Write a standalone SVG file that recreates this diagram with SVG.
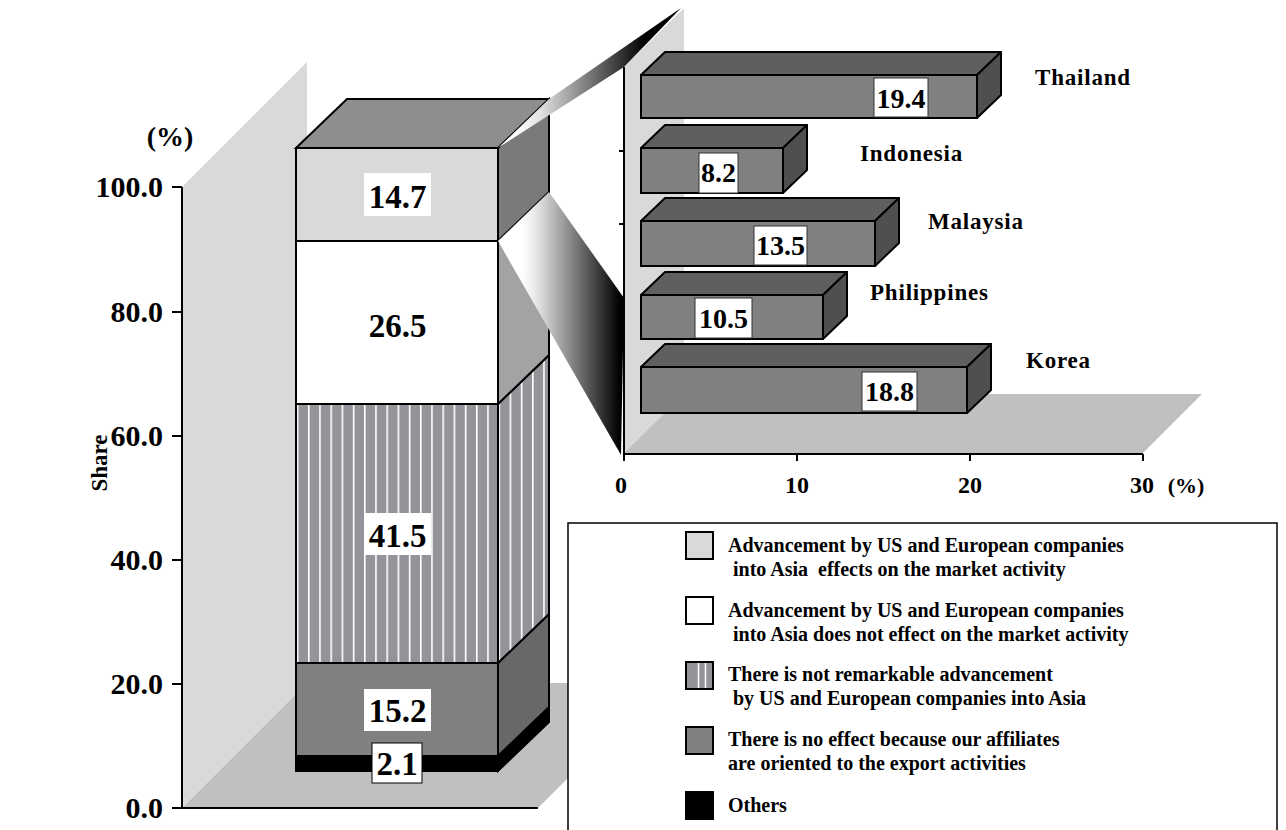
<svg xmlns="http://www.w3.org/2000/svg" width="1286" height="830" viewBox="0 0 1286 830">
<defs>
<style>
text{font-family:"Liberation Serif","Times New Roman",serif;font-weight:bold;fill:#000}
.ax{font-size:30px;text-anchor:end}
.seg{font-size:33px;text-anchor:middle}
.val{font-size:28px;text-anchor:middle}
.cty{font-size:23px;letter-spacing:0.8px}
.xt{font-size:24px;text-anchor:middle}
.leg{font-size:20px;white-space:pre}
.ol{stroke:#000;stroke-width:2;stroke-linejoin:miter}
.axl{stroke:#000;stroke-width:2;fill:none}
.box{fill:#fff}
.bbox{fill:#fff;stroke:#333;stroke-width:1}
.bfront{fill:#808080;stroke:#000;stroke-width:2}
.btop{fill:#5f5f5f;stroke:#000;stroke-width:2;stroke-linejoin:round}
.bend{fill:#4f4f4f;stroke:#000;stroke-width:2;stroke-linejoin:round}
.sw{stroke:#000;stroke-width:2}
.share{font-size:23px;text-anchor:middle}
</style>
<pattern id="stripes" patternUnits="userSpaceOnUse" x="308" y="0" width="11.2" height="20">
<rect width="11.2" height="20" fill="#939499"/>
<rect x="0" width="1.6" height="20" fill="#ffffff"/>
</pattern>
<linearGradient id="gTop" gradientUnits="userSpaceOnUse" x1="515" y1="0" x2="645" y2="0">
<stop offset="0" stop-color="#ffffff"/>
<stop offset="0.2" stop-color="#e0e0e0"/>
<stop offset="1" stop-color="#000000"/>
</linearGradient>
<linearGradient id="gLow" gradientUnits="userSpaceOnUse" x1="522" y1="0" x2="620" y2="0">
<stop offset="0" stop-color="#ffffff"/>
<stop offset="0.15" stop-color="#e6e6e6"/>
<stop offset="1" stop-color="#000000"/>
</linearGradient>
</defs>
<rect width="1286" height="830" fill="#ffffff"/>

<!-- Left chart background -->
<g id="left-chart-frame">
<polygon points="182,187 307,62 307,683 182,808" fill="#d9d9d9"/>
<polygon points="182,808 307,683 663,683 538,808" fill="#c0c0c0"/>
<line class="axl" x1="182" y1="187" x2="182" y2="808"/>
<line class="axl" x1="172" y1="808" x2="538" y2="808"/>
<g class="axl">
<line x1="172" y1="187" x2="182" y2="187"/>
<line x1="172" y1="312" x2="182" y2="312"/>
<line x1="172" y1="436" x2="182" y2="436"/>
<line x1="172" y1="560" x2="182" y2="560"/>
<line x1="172" y1="684" x2="182" y2="684"/>
</g>
<text class="ax" x="163" y="197">100.0</text>
<text class="ax" x="163" y="322">80.0</text>
<text class="ax" x="163" y="446">60.0</text>
<text class="ax" x="163" y="570">40.0</text>
<text class="ax" x="163" y="694">20.0</text>
<text class="ax" x="163" y="818">0.0</text>
<text x="170" y="146" style="font-size:28px;text-anchor:middle">(%)</text>
<text class="share" x="0" y="0" transform="translate(107 463) rotate(-90)">Share</text>
</g>

<!-- Stacked bar -->
<g id="stacked-bar">
<g id="seg-others">
<rect class="ol" x="296" y="756" width="202" height="15" fill="#000"/>
<polygon class="ol" points="498,756 549,707 549,722 498,771" fill="#000"/>
</g>
<g id="seg-export">
<rect class="ol" x="296" y="663" width="202" height="93" fill="#808080"/>
<polygon class="ol" points="498,663 549,614 549,707 498,756" fill="#686868"/>
</g>
<g id="seg-not-remarkable">
<rect class="ol" x="296" y="404" width="202" height="259" fill="url(#stripes)"/>
<polygon class="ol" points="498,404 549,355 549,614 498,663" fill="url(#stripes)"/>
</g>
<g id="seg-no-effect">
<rect class="ol" x="296" y="241" width="202" height="163" fill="#ffffff"/>
<polygon class="ol" points="498,241 549,192 549,355 498,404" fill="#a3a3a3"/>
</g>
<g id="seg-effects">
<rect class="ol" x="296" y="148" width="202" height="93" fill="#d9d9d9"/>
<polygon class="ol" points="498,148 549,99 549,192 498,241" fill="#7a7a7a"/>
</g>
<polygon id="bar-top" class="ol" points="296,148 347,99 549,99 498,148" fill="#8e8e8e"/>
</g>

<!-- Right chart background -->
<g id="right-chart-frame">
<polygon points="624,67 684,8 684,394 624,453" fill="#d9d9d9"/>
<polygon points="624,453 684,394 1202,394 1143,453" fill="#c0c0c0"/>
<line class="axl" x1="624" y1="67" x2="624" y2="455"/>
<line class="axl" x1="623" y1="454" x2="1143" y2="454"/>
<g class="axl">
<line x1="619" y1="151" x2="624" y2="151"/>
<line x1="619" y1="224" x2="624" y2="224"/>
<line x1="624" y1="454" x2="624" y2="461"/>
<line x1="797" y1="454" x2="797" y2="461"/>
<line x1="970" y1="454" x2="970" y2="461"/>
<line x1="1143" y1="454" x2="1143" y2="461"/>
</g>
<text class="xt" x="621" y="493">0</text>
<text class="xt" x="797" y="493">10</text>
<text class="xt" x="970" y="493">20</text>
<text class="xt" x="1142" y="493">30</text>
<text x="1186" y="493" style="font-size:22px;text-anchor:middle">(%)</text>
</g>

<!-- Connectors (gradient funnels) -->
<g id="connectors">
<polygon points="498,148 549,99 681,8 624,67" fill="url(#gTop)"/>
<polygon points="498,241 549,192 624,298 621,455" fill="url(#gLow)"/>
</g>

<!-- Segment labels -->
<g id="seg-labels">
<rect class="box" x="364" y="173" width="67" height="43"/>
<text class="seg" x="397.5" y="208">14.7</text>
<text class="seg" x="397.5" y="337">26.5</text>
<rect class="box" x="364" y="513" width="67" height="42"/>
<text class="seg" x="397.5" y="547">41.5</text>
<rect class="box" x="364" y="689" width="67" height="42"/>
<text class="seg" x="397.5" y="722">15.2</text>
<rect class="box" x="372" y="743" width="50" height="40" stroke="#000" stroke-width="1"/>
<text class="seg" x="397" y="775">2.1</text>
</g>

<!-- Horizontal bars -->
<g id="bar-thailand">
<polygon class="btop" points="641,75 665,52 1001,52 977,75"/>
<polygon class="bend" points="977,75 1001,52 1001,95 977,118"/>
<rect class="bfront" x="641" y="75" width="336" height="43"/>
<rect class="bbox" x="874" y="78" width="54" height="39"/>
<text class="val" x="901" y="108">19.4</text>
<text class="cty" x="1035" y="85">Thailand</text>
</g>
<g id="bar-indonesia">
<polygon class="btop" points="641,148 665,125 807,125 783,148"/>
<polygon class="bend" points="783,148 807,125 807,170 783,193"/>
<rect class="bfront" x="641" y="148" width="142" height="45"/>
<rect class="bbox" x="699" y="153" width="39" height="40"/>
<text class="val" x="718.5" y="182">8.2</text>
<text class="cty" x="860" y="161">Indonesia</text>
</g>
<g id="bar-malaysia">
<polygon class="btop" points="641,221 665,198 899,198 875,221"/>
<polygon class="bend" points="875,221 899,198 899,243 875,266"/>
<rect class="bfront" x="641" y="221" width="234" height="45"/>
<rect class="bbox" x="754" y="226" width="53" height="39"/>
<text class="val" x="780.5" y="255">13.5</text>
<text class="cty" x="928" y="229">Malaysia</text>
</g>
<g id="bar-philippines">
<polygon class="btop" points="641,295 665,272 847,272 823,295"/>
<polygon class="bend" points="823,295 847,272 847,316 823,339"/>
<rect class="bfront" x="641" y="295" width="182" height="44"/>
<rect class="bbox" x="695" y="298" width="57" height="40"/>
<text class="val" x="723.5" y="328">10.5</text>
<text class="cty" x="870" y="300">Philippines</text>
</g>
<g id="bar-korea">
<polygon class="btop" points="641,367 665,344 991,344 967,367"/>
<polygon class="bend" points="967,367 991,344 991,390 967,413"/>
<rect class="bfront" x="641" y="367" width="326" height="46"/>
<rect class="bbox" x="862" y="372" width="55" height="39"/>
<text class="val" x="889.5" y="401">18.8</text>
<text class="cty" x="1026" y="368">Korea</text>
</g>

<!-- Legend -->
<g id="legend">
<rect x="568" y="523" width="709" height="330" fill="#fff" stroke="#000" stroke-width="1.5"/>
<rect class="sw" x="686" y="532" width="27" height="27" fill="#d9d9d9"/>
<text class="leg" x="728" y="552">Advancement by US and European companies</text>
<text class="leg" x="733" y="576">into Asia  effects on the market activity</text>
<rect class="sw" x="686" y="597" width="27" height="27" fill="#ffffff"/>
<text class="leg" x="728" y="617">Advancement by US and European companies</text>
<text class="leg" x="733" y="641">into Asia does not effect on the market activity</text>
<rect class="sw" x="686" y="662" width="27" height="27" fill="#939499"/>
<line x1="698.5" y1="663" x2="698.5" y2="688" stroke="#fff" stroke-width="1.5"/>
<line x1="705.5" y1="663" x2="705.5" y2="688" stroke="#fff" stroke-width="1.5"/>
<text class="leg" x="728" y="681">There is not remarkable advancement</text>
<text class="leg" x="733" y="705">by US and European companies into Asia</text>
<rect class="sw" x="686" y="727" width="27" height="27" fill="#808080"/>
<text class="leg" x="728" y="746">There is no effect because our affiliates</text>
<text class="leg" x="728" y="770">are oriented to the export activities</text>
<rect class="sw" x="686" y="792" width="27" height="27" fill="#000000"/>
<text class="leg" x="728" y="812">Others</text>
</g>
</svg>
